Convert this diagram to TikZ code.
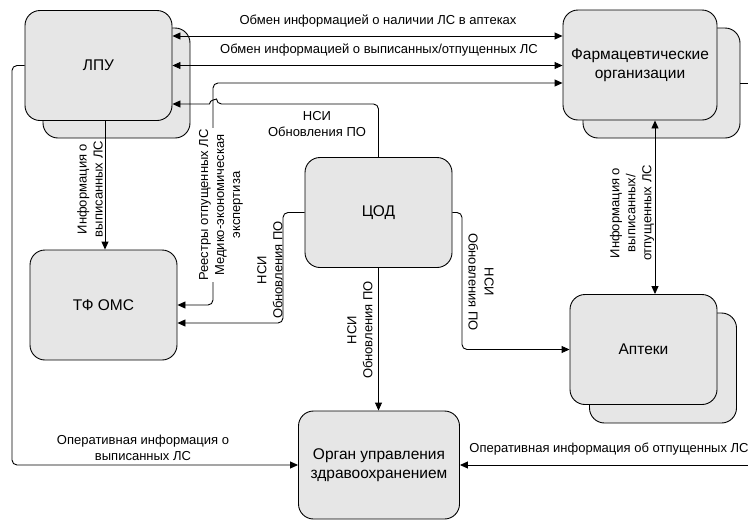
\documentclass[tikz,border=0pt]{standalone}
\usepackage{fontspec}
\setmainfont{Liberation Sans}
\usetikzlibrary{arrows.meta,calc}
\definecolor{boxfill}{RGB}{230,230,230}
\tikzset{
  box/.style={draw=black, line width=0.9pt, fill=boxfill, rounded corners=15pt,
    minimum width=147pt, minimum height=110pt, inner sep=0pt, align=center,
    font=\fontsize{15.5}{19}\selectfont},
  conn/.style={line width=0.9pt, rounded corners=5pt},
  ar/.style={-{Triangle[length=8pt,width=7pt]}},
  artwo/.style={{Triangle[length=8pt,width=7pt]}-{Triangle[length=8pt,width=7pt]}},
  lbl/.style={font=\fontsize{13}{16}\selectfont, align=center, inner sep=1pt},
}
\begin{document}
\begin{tikzpicture}[x=1pt,y=-1pt]
\useasboundingbox (0,0) rectangle (748,520);
% boxes
\node[box] (lpub) at (116.5,83) {};
\node[box] (lpu) at (98.5,65.5) {ЛПУ};
\node[box, minimum width=157pt] (farmb) at (661.5,83) {};
\node[box, minimum width=154pt] (farm) at (640,65) {Фармацевтические\\организации};
\node[box] (tfoms) at (103.5,305) {ТФ ОМС};
\node[box] (cod) at (378.5,212.5) {ЦОД};
\node[box] (aptb) at (663,368) {};
\node[box] (apt) at (643.5,349.5) {Аптеки};
\node[box, minimum width=161pt, minimum height=108pt] (organ) at (379,465) {Орган управления\\здравоохранением};
% helper coordinates
\coordinate (yA) at (0,36);
\coordinate (yB) at (0,83);
\coordinate (yC) at (0,104);
\coordinate (yT) at (0,323);
\coordinate (xR) at (213,0);
\coordinate (xL) at (12,0);
\coordinate (xI) at (105,0);
\coordinate (xN) at (283,0);
\coordinate (xE) at (462,0);
\coordinate (xF) at (655,0);
\coordinate (edge) at (748,0);
\coordinate (hopR) at (216.5,104);
\coordinate (hopL) at (209.5,104);
\coordinate (hopR1) at (216.5,99.5);
\coordinate (hopL1) at (209.5,99.5);
% connectors
\draw[conn,artwo] (lpu.east|-yA) -- (farm.west|-yA);
\draw[conn,artwo] (lpu.east) -- (farm.west|-lpu.east);
\draw[conn,artwo] (farm.west|-yB) -- (xR|-yB) -- (xR|-tfoms.east) -- (tfoms.east);
\draw[conn,ar] (cod.north) -- (cod.north|-yC) -- (hopR) [sharp corners] .. controls (hopR1) and (hopL1) .. (hopL) -- (lpu.east|-yC);
\draw[conn,ar] (lpu.south-|xI) -- (tfoms.north-|xI);
\draw[conn,ar] (lpu.west) -- (xL|-lpu.west) -- (xL|-organ.west) -- (organ.west);
\draw[conn] (farmb.east|-yB) -- (edge|-yB);
\draw[conn,ar] (edge|-organ.east) -- (organ.east);
\draw[conn,artwo] (farm.south-|xF) -- (apt.north-|xF);
\draw[conn,ar] (cod.west) -- (xN|-cod.west) -- (xN|-yT) -- (tfoms.east|-yT);
\draw[conn,ar] (cod.east) -- (xE|-cod.east) -- (xE|-apt.west) -- (apt.west);
\draw[conn,ar] (cod.south) -- (cod.south|-organ.north);
% labels
\node[lbl] (l1) at (378,21) {Обмен информацией о наличии ЛС в аптеках};
\node[lbl] (l2) at (379,50) {Обмен информацией о выписанных/отпущенных ЛС};
\node[lbl] (l3) at (317,124) {НСИ\\Обновления ПО};
\node[lbl, rotate=90, fill=white] (l4) at (221,205) {Реестры отпущенных ЛС\\Медико-экономическая\\экспертиза};
\node[lbl, rotate=90] (l5) at (90,189) {Информация о\\выписанных ЛС};
\node[lbl] (l6) at (143,448) {Оперативная информация о\\выписанных ЛС};
\node[lbl] (l7) at (609,449) {Оперативная информация об отпущенных ЛС};
\node[lbl, rotate=90] (l8) at (632,213) {Информация о\\выписанных/\\отпущенных ЛС};
\node[lbl, rotate=90] (l9) at (270,270) {НСИ\\Обновления ПО};
\node[lbl, rotate=-90] (l10) at (481,282) {НСИ\\Обновления ПО};
\node[lbl, rotate=90] (l11) at (360,330) {НСИ\\Обновления ПО};
\end{tikzpicture}
\end{document}
